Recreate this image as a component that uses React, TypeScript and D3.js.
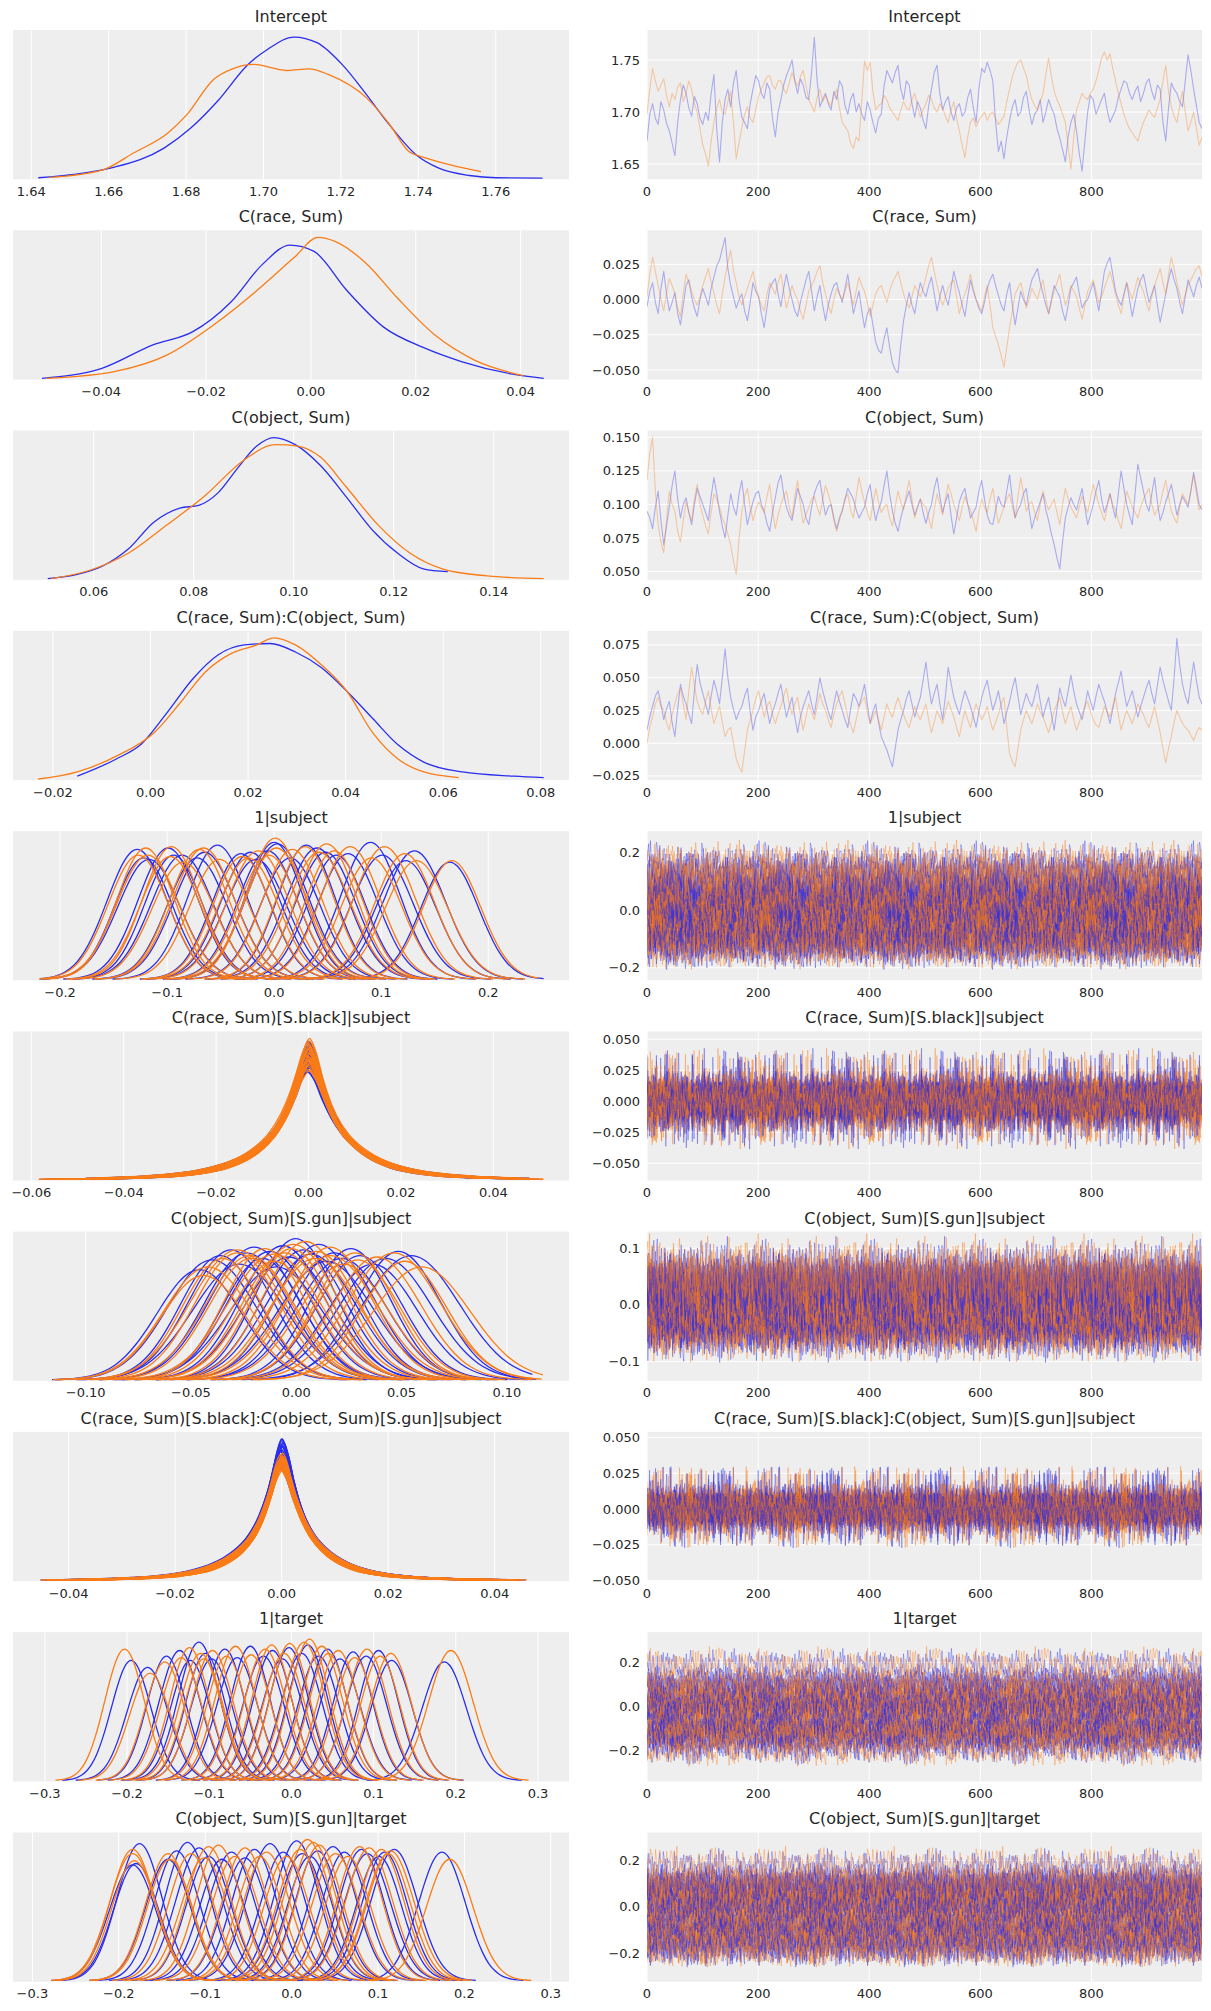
import React from "react";
import * as d3 from "d3";

const BLUE = "#2a2eec";
const ORANGE = "#fa7c17";
const TEXT = "#262626";
const PANEL_BG = "#eeeeee";

// ---------- titles, extents, ticks ----------
const titles = [
  "Intercept",
  "C(race, Sum)",
  "C(object, Sum)",
  "C(race, Sum):C(object, Sum)",
  "1|subject",
  "C(race, Sum)[S.black]|subject",
  "C(object, Sum)[S.gun]|subject",
  "C(race, Sum)[S.black]:C(object, Sum)[S.gun]|subject",
  "1|target",
  "C(object, Sum)[S.gun]|target",
];

// min / max of the posterior draws of each variable
const extents: [number, number][] = [
  [1.6418, 1.7724],
  [-0.052, 0.0444],
  [0.0489, 0.15],
  [-0.023, 0.0806],
  [-0.2204, 0.2518],
  [-0.0585, 0.0509],
  [-0.1225, 0.1175],
  [-0.0457, 0.0492],
  [-0.308, 0.307],
  [-0.2932, 0.2918],
];

const kdeTickLabels: string[][] = [
  ["1.64", "1.66", "1.68", "1.70", "1.72", "1.74", "1.76"],
  ["\u22120.04", "\u22120.02", "0.00", "0.02", "0.04"],
  ["0.06", "0.08", "0.10", "0.12", "0.14"],
  ["\u22120.02", "0.00", "0.02", "0.04", "0.06", "0.08"],
  ["\u22120.2", "\u22120.1", "0.0", "0.1", "0.2"],
  ["\u22120.06", "\u22120.04", "\u22120.02", "0.00", "0.02", "0.04"],
  ["\u22120.10", "\u22120.05", "0.00", "0.05", "0.10"],
  ["\u22120.04", "\u22120.02", "0.00", "0.02", "0.04"],
  ["\u22120.3", "\u22120.2", "\u22120.1", "0.0", "0.1", "0.2", "0.3"],
  ["\u22120.3", "\u22120.2", "\u22120.1", "0.0", "0.1", "0.2", "0.3"],
];

const traceTickLabels: string[][] = [
  ["1.65", "1.70", "1.75"],
  ["\u22120.050", "\u22120.025", "0.000", "0.025"],
  ["0.050", "0.075", "0.100", "0.125", "0.150"],
  ["\u22120.025", "0.000", "0.025", "0.050", "0.075"],
  ["\u22120.2", "0.0", "0.2"],
  ["\u22120.050", "\u22120.025", "0.000", "0.025", "0.050"],
  ["\u22120.1", "0.0", "0.1"],
  ["\u22120.050", "\u22120.025", "0.000", "0.025", "0.050"],
  ["\u22120.2", "0.0", "0.2"],
  ["\u22120.2", "0.0", "0.2"],
];

const drawTickLabels = ["0", "200", "400", "600", "800"];
const lastDraw = 999;

// ---------- single-variable KDE curves: [value, relative density] ----------
const interceptKdeBlue = [[1.6418,0.003],[1.6516,0.028],[1.6615,0.078],[1.6743,0.213],[1.6812,0.355],[1.6881,0.545],[1.696,0.806],[1.701,0.912],[1.7079,1.0],[1.7138,0.96],[1.7207,0.794],[1.7266,0.592],[1.7325,0.379],[1.7394,0.166],[1.7453,0.071],[1.7532,0.019],[1.7601,0.003],[1.7721,0.0]];
const interceptKdeOrange = [[1.6447,0.005],[1.6585,0.059],[1.6664,0.178],[1.6753,0.32],[1.6802,0.45],[1.6871,0.7],[1.692,0.775],[1.6975,0.806],[1.7059,0.763],[1.7118,0.775],[1.7167,0.735],[1.7266,0.569],[1.7325,0.384],[1.7375,0.19],[1.7414,0.147],[1.7483,0.095],[1.7562,0.047]];
const raceKdeBlue = [[-0.0513,0],[-0.04,0.07],[-0.03,0.24],[-0.0226,0.33],[-0.0153,0.54],[-0.0092,0.81],[-0.004,0.945],[0.0006,0.9],[0.0067,0.63],[0.014,0.36],[0.0214,0.22],[0.0287,0.12],[0.0385,0.03],[0.0444,0]];
const raceKdeOrange = [[-0.0505,0],[-0.0373,0.05],[-0.0275,0.165],[-0.0178,0.4],[-0.0104,0.62],[-0.0031,0.86],[0.0013,1.0],[0.0047,0.97],[0.0104,0.82],[0.0165,0.57],[0.0239,0.3],[0.0312,0.13],[0.0405,0.02]];
const objectKdeBlue = [[0.0508,0.0],[0.0567,0.03],[0.0618,0.09],[0.0669,0.21],[0.072,0.4],[0.0772,0.5],[0.081,0.52],[0.0849,0.61],[0.0887,0.78],[0.0926,0.94],[0.096,1.0],[0.1003,0.95],[0.1054,0.8],[0.1105,0.58],[0.1156,0.35],[0.1208,0.18],[0.1259,0.07],[0.1308,0.05]];
const objectKdeOrange = [[0.0515,0],[0.0592,0.06],[0.0669,0.18],[0.0746,0.38],[0.0823,0.59],[0.09,0.84],[0.0964,0.95],[0.1008,0.94],[0.1054,0.86],[0.1105,0.65],[0.1169,0.38],[0.1233,0.18],[0.1297,0.07],[0.1387,0.02],[0.15,0]];
const interactionKdeBlue = [[-0.015,0.02],[-0.0071,0.14],[-0.0018,0.25],[0.0034,0.47],[0.0087,0.71],[0.0139,0.88],[0.0192,0.95],[0.0245,0.96],[0.0297,0.9],[0.035,0.79],[0.0403,0.62],[0.0455,0.43],[0.0508,0.24],[0.056,0.12],[0.0639,0.05],[0.0745,0.02],[0.0806,0.01]];
const interactionKdeOrange = [[-0.023,0],[-0.015,0.05],[-0.0071,0.16],[0.0008,0.33],[0.0061,0.54],[0.0113,0.76],[0.0166,0.89],[0.0218,0.95],[0.0253,1.0],[0.0297,0.95],[0.035,0.81],[0.0403,0.62],[0.0455,0.33],[0.0508,0.14],[0.056,0.05],[0.0632,0.01]];

// ---------- single-variable traces (every 5th draw) ----------
const interceptTraceBlue = [
1.672,1.698,1.708,1.694,1.688,1.71,1.702,1.689,1.682,1.67,
1.658,1.69,1.712,1.726,1.718,1.704,1.696,1.715,1.708,1.694,
1.688,1.7,1.692,1.718,1.736,1.684,1.652,1.69,1.712,1.722,
1.705,1.728,1.74,1.712,1.695,1.69,1.684,1.708,1.722,1.735,
1.73,1.718,1.713,1.728,1.722,1.694,1.676,1.7,1.712,1.726,
1.735,1.742,1.75,1.73,1.718,1.732,1.726,1.714,1.712,1.738,
1.772,1.73,1.705,1.712,1.718,1.708,1.702,1.72,1.712,1.73,
1.725,1.706,1.698,1.712,1.718,1.7,1.708,1.698,1.692,1.71,
1.702,1.69,1.68,1.694,1.698,1.725,1.74,1.734,1.728,1.738,
1.745,1.722,1.712,1.73,1.726,1.708,1.695,1.71,1.704,1.692,
1.684,1.706,1.722,1.738,1.745,1.718,1.702,1.71,1.715,1.7,
1.692,1.704,1.708,1.696,1.7,1.714,1.722,1.704,1.69,1.722,
1.742,1.738,1.748,1.74,1.73,1.69,1.662,1.672,1.655,1.676,
1.692,1.705,1.712,1.696,1.7,1.714,1.72,1.702,1.688,1.698,
1.702,1.712,1.69,1.7,1.712,1.704,1.698,1.684,1.675,1.664,
1.652,1.676,1.69,1.698,1.682,1.66,1.643,1.672,1.7,1.716,
1.712,1.698,1.705,1.712,1.718,1.702,1.69,1.696,1.702,1.714,
1.722,1.73,1.728,1.718,1.712,1.72,1.725,1.71,1.718,1.728,
1.732,1.72,1.712,1.726,1.722,1.69,1.672,1.704,1.728,1.722,
1.718,1.71,1.705,1.73,1.755,1.74,1.722,1.706,1.69,1.684];
const interceptTraceOrange = [
1.698,1.722,1.742,1.73,1.72,1.726,1.732,1.716,1.705,1.718,
1.712,1.724,1.728,1.71,1.718,1.73,1.722,1.708,1.7,1.684,
1.668,1.66,1.648,1.672,1.69,1.704,1.712,1.7,1.698,1.71,
1.72,1.69,1.655,1.67,1.685,1.698,1.705,1.694,1.69,1.702,
1.715,1.722,1.728,1.734,1.735,1.726,1.722,1.73,1.73,1.722,
1.718,1.728,1.738,1.73,1.725,1.734,1.74,1.726,1.712,1.706,
1.7,1.714,1.722,1.71,1.716,1.71,1.706,1.716,1.722,1.704,
1.69,1.686,1.682,1.67,1.665,1.676,1.672,1.71,1.749,1.74,
1.748,1.72,1.702,1.706,1.708,1.716,1.712,1.704,1.7,1.696,
1.692,1.702,1.71,1.704,1.702,1.712,1.718,1.706,1.695,1.702,
1.708,1.716,1.712,1.704,1.7,1.708,1.704,1.696,1.69,1.702,
1.71,1.694,1.682,1.668,1.656,1.676,1.69,1.694,1.686,1.692,
1.696,1.7,1.692,1.698,1.7,1.694,1.688,1.692,1.696,1.71,
1.722,1.734,1.742,1.748,1.75,1.742,1.735,1.722,1.712,1.706,
1.702,1.71,1.718,1.736,1.752,1.734,1.72,1.712,1.706,1.698,
1.69,1.668,1.645,1.676,1.702,1.71,1.718,1.714,1.712,1.718,
1.722,1.73,1.74,1.752,1.758,1.75,1.756,1.742,1.73,1.718,
1.708,1.698,1.69,1.684,1.68,1.676,1.672,1.682,1.69,1.696,
1.702,1.698,1.695,1.704,1.712,1.73,1.745,1.72,1.705,1.696,
1.69,1.706,1.72,1.7,1.682,1.69,1.7,1.684,1.668,1.676];
const raceTraceBlue = [
-0.005,0.006,0.012,-0.002,-0.01,0.008,0.02,0.004,-0.008,-0.002,
0.005,-0.01,-0.018,-0.004,0.01,0.014,0.002,-0.006,-0.012,0.0,
0.008,0.002,-0.004,0.008,0.016,0.024,0.028,0.036,0.044,0.022,
0.01,0.002,-0.006,0.0,0.004,-0.008,-0.015,-0.002,0.012,0.006,
0.002,-0.01,-0.02,-0.006,0.008,0.012,0.015,0.004,-0.005,0.008,
0.018,0.008,0.0,-0.008,-0.012,-0.002,0.006,0.014,0.02,0.006,
-0.008,0.002,0.01,-0.004,-0.015,-0.004,0.004,0.01,0.012,0.004,
-0.002,0.008,0.018,0.004,-0.01,-0.002,0.006,-0.008,-0.02,-0.01,
-0.006,-0.018,-0.03,-0.036,-0.038,-0.028,-0.02,-0.034,-0.045,-0.05,
-0.052,-0.032,-0.015,-0.004,0.005,-0.004,-0.01,0.002,0.012,0.006,
0.002,0.01,0.016,0.004,-0.008,0.002,0.01,0.002,-0.004,0.008,
0.02,0.012,0.005,-0.004,-0.012,0.002,0.014,0.006,0.0,-0.006,
-0.01,-0.002,0.008,0.014,0.018,0.01,0.003,-0.004,-0.008,0.004,
0.012,-0.004,-0.018,-0.006,0.006,0.0,-0.004,0.006,0.014,0.018,
0.022,0.012,0.004,-0.004,-0.01,0.0,0.01,0.006,0.002,-0.008,
-0.015,-0.004,0.008,0.012,0.016,0.004,-0.006,-0.002,0.0,0.006,
0.012,0.002,-0.008,0.006,0.02,0.026,0.03,0.018,0.006,0.0,
-0.004,0.004,0.012,0.0,-0.012,-0.002,0.008,0.014,0.018,0.008,
-0.002,0.004,0.01,-0.004,-0.016,-0.006,0.004,0.014,0.022,0.014,
0.008,-0.002,-0.01,0.002,0.014,0.008,0.002,0.01,0.016,0.008];
const raceTraceOrange = [
0.002,0.018,0.03,0.02,0.01,0.0,-0.008,0.004,0.015,0.01,
0.004,-0.006,-0.012,0.004,0.018,0.012,0.006,0.0,-0.004,0.002,
0.01,0.016,0.022,0.012,0.005,-0.004,-0.01,0.004,0.016,0.026,
0.035,0.02,0.012,0.002,-0.004,0.002,0.008,0.014,0.02,0.01,
0.002,-0.004,-0.008,0.004,0.012,0.008,0.004,0.012,0.018,0.006,
-0.006,0.002,0.01,0.004,0.0,-0.008,-0.014,-0.004,0.006,0.01,
0.014,0.02,0.024,0.012,0.004,-0.004,-0.01,0.0,0.008,0.004,
0.0,0.006,0.012,0.004,-0.004,0.006,0.016,0.01,0.006,-0.002,
-0.012,-0.004,0.004,0.008,0.01,0.004,-0.002,0.006,0.012,0.016,
0.02,0.012,0.004,-0.002,-0.006,0.002,0.01,0.006,0.002,0.008,
0.016,0.024,0.03,0.02,0.01,0.002,-0.004,0.002,0.008,0.012,
0.014,0.002,-0.01,-0.002,0.004,0.01,0.018,0.008,0.0,-0.004,
-0.008,0.002,0.01,-0.004,-0.02,-0.026,-0.032,-0.04,-0.048,-0.034,
-0.02,-0.008,0.004,0.008,0.012,0.004,-0.006,0.0,0.008,0.004,
0.0,0.008,0.014,0.002,-0.01,-0.002,0.006,0.012,0.018,0.006,
-0.004,0.002,0.01,0.006,0.002,-0.006,-0.014,-0.004,0.006,0.01,
0.014,0.006,-0.002,0.002,0.008,0.014,0.02,0.012,0.004,-0.004,
-0.01,0.002,0.012,0.006,0.0,0.008,0.016,0.01,0.006,-0.002,
-0.008,0.002,0.01,0.016,0.022,0.012,0.004,0.018,0.03,0.022,
0.012,0.004,-0.004,0.004,0.01,0.014,0.018,0.022,0.024,0.016];
const objectTraceBlue = [
0.095,0.09,0.082,0.098,0.11,0.088,0.07,0.084,0.098,0.114,
0.125,0.104,0.09,0.1,0.105,0.094,0.085,0.1,0.112,0.106,
0.1,0.094,0.088,0.106,0.12,0.108,0.095,0.084,0.075,0.092,
0.108,0.098,0.092,0.108,0.118,0.1,0.085,0.094,0.102,0.108,
0.11,0.1,0.095,0.086,0.08,0.094,0.105,0.116,0.122,0.108,
0.098,0.092,0.088,0.1,0.112,0.106,0.1,0.09,0.085,0.098,
0.108,0.114,0.118,0.104,0.092,0.098,0.1,0.09,0.082,0.09,
0.095,0.104,0.112,0.108,0.104,0.096,0.09,0.094,0.098,0.108,
0.115,0.1,0.088,0.096,0.102,0.114,0.125,0.108,0.095,0.086,
0.08,0.09,0.098,0.104,0.11,0.1,0.092,0.098,0.104,0.094,
0.086,0.094,0.1,0.112,0.12,0.106,0.094,0.102,0.108,0.092,
0.078,0.09,0.102,0.108,0.112,0.1,0.09,0.094,0.098,0.11,
0.118,0.104,0.092,0.086,0.085,0.096,0.106,0.1,0.098,0.11,
0.122,0.104,0.09,0.096,0.1,0.108,0.112,0.096,0.082,0.09,
0.096,0.102,0.108,0.096,0.088,0.078,0.07,0.06,0.052,0.072,
0.09,0.098,0.105,0.1,0.096,0.104,0.112,0.098,0.085,0.092,
0.1,0.11,0.118,0.104,0.094,0.1,0.108,0.098,0.09,0.108,
0.125,0.112,0.1,0.092,0.085,0.108,0.13,0.12,0.11,0.1,
0.095,0.108,0.12,0.102,0.088,0.094,0.102,0.108,0.115,0.104,
0.092,0.1,0.106,0.102,0.098,0.11,0.124,0.112,0.1,0.096];
const objectTraceOrange = [
0.118,0.138,0.15,0.11,0.085,0.072,0.064,0.088,0.11,0.1,
0.095,0.08,0.072,0.088,0.102,0.094,0.088,0.104,0.115,0.1,
0.092,0.084,0.078,0.094,0.108,0.104,0.098,0.09,0.085,0.078,
0.07,0.058,0.048,0.074,0.095,0.106,0.112,0.098,0.088,0.096,
0.102,0.098,0.094,0.106,0.115,0.096,0.082,0.092,0.1,0.106,
0.11,0.098,0.09,0.106,0.118,0.1,0.086,0.092,0.098,0.104,
0.106,0.098,0.092,0.104,0.114,0.108,0.1,0.088,0.08,0.088,
0.096,0.104,0.108,0.096,0.09,0.106,0.12,0.11,0.102,0.094,
0.088,0.1,0.112,0.102,0.094,0.098,0.1,0.09,0.084,0.098,
0.11,0.102,0.096,0.108,0.118,0.104,0.09,0.098,0.104,0.1,
0.098,0.09,0.082,0.096,0.108,0.1,0.092,0.104,0.115,0.108,
0.1,0.094,0.088,0.098,0.106,0.1,0.096,0.088,0.08,0.094,
0.104,0.098,0.094,0.104,0.112,0.098,0.086,0.092,0.098,0.104,
0.108,0.098,0.09,0.106,0.12,0.108,0.095,0.1,0.102,0.094,
0.088,0.1,0.11,0.102,0.096,0.1,0.104,0.094,0.085,0.1,
0.112,0.104,0.098,0.094,0.09,0.098,0.106,0.1,0.094,0.104,
0.115,0.108,0.1,0.094,0.088,0.098,0.108,0.1,0.096,0.088,
0.082,0.096,0.11,0.104,0.098,0.094,0.09,0.098,0.104,0.108,
0.112,0.1,0.092,0.096,0.1,0.11,0.118,0.106,0.095,0.09,
0.086,0.098,0.108,0.104,0.1,0.11,0.122,0.108,0.096,0.1];
const interactionTraceBlue = [
0.01,0.02,0.028,0.036,0.04,0.03,0.018,0.026,0.032,0.016,
0.005,0.026,0.045,0.036,0.03,0.022,0.015,0.04,0.06,0.046,
0.038,0.03,0.022,0.036,0.048,0.04,0.03,0.05,0.072,0.05,
0.035,0.026,0.018,0.024,0.028,0.036,0.042,0.024,0.01,0.02,
0.025,0.032,0.038,0.026,0.015,0.024,0.03,0.038,0.045,0.032,
0.02,0.028,0.035,0.02,0.008,0.02,0.028,0.034,0.04,0.03,
0.022,0.036,0.05,0.04,0.032,0.024,0.018,0.03,0.04,0.032,
0.025,0.018,0.012,0.026,0.038,0.034,0.028,0.036,0.045,0.03,
0.015,0.024,0.03,0.016,0.005,0.0,-0.005,-0.012,-0.018,-0.004,
0.01,0.018,0.025,0.034,0.04,0.03,0.02,0.028,0.035,0.048,
0.062,0.044,0.03,0.038,0.045,0.03,0.018,0.036,0.058,0.046,
0.035,0.028,0.022,0.032,0.04,0.034,0.028,0.02,0.012,0.024,
0.035,0.042,0.048,0.036,0.025,0.032,0.04,0.028,0.015,0.024,
0.032,0.042,0.05,0.036,0.022,0.03,0.038,0.032,0.028,0.036,
0.045,0.032,0.02,0.028,0.035,0.022,0.01,0.026,0.042,0.034,
0.028,0.04,0.052,0.04,0.03,0.024,0.018,0.028,0.04,0.032,
0.025,0.036,0.045,0.038,0.032,0.024,0.015,0.026,0.038,0.046,
0.055,0.04,0.028,0.034,0.04,0.03,0.02,0.028,0.035,0.042,
0.048,0.038,0.03,0.044,0.058,0.048,0.04,0.032,0.025,0.05,
0.08,0.06,0.045,0.036,0.03,0.046,0.062,0.048,0.035,0.03];
const interactionTraceOrange = [
0.0,0.012,0.02,0.03,0.035,0.028,0.025,0.016,0.01,0.022,
0.03,0.038,0.042,0.03,0.018,0.04,0.058,0.044,0.032,0.026,
0.022,0.032,0.04,0.026,0.015,0.022,0.028,0.016,0.005,0.01,
0.012,0.0,-0.012,-0.018,-0.022,-0.006,0.01,0.018,0.025,0.034,
0.04,0.03,0.02,0.028,0.032,0.022,0.015,0.022,0.028,0.036,
0.042,0.03,0.022,0.03,0.035,0.022,0.01,0.02,0.03,0.024,
0.018,0.028,0.038,0.03,0.025,0.018,0.012,0.022,0.03,0.036,
0.04,0.03,0.02,0.014,0.008,0.018,0.028,0.032,0.035,0.024,
0.015,0.02,0.025,0.018,0.01,0.02,0.03,0.024,0.02,0.028,
0.035,0.028,0.022,0.016,0.012,0.02,0.028,0.022,0.018,0.024,
0.03,0.018,0.008,0.016,0.025,0.02,0.015,0.024,0.032,0.026,
0.02,0.012,0.005,0.016,0.025,0.018,0.012,0.022,0.03,0.024,
0.018,0.022,0.028,0.018,0.01,0.016,0.022,0.03,0.035,0.012,
-0.008,-0.014,-0.018,-0.004,0.01,0.018,0.025,0.02,0.015,0.022,
0.03,0.024,0.02,0.014,0.008,0.016,0.025,0.03,0.035,0.024,
0.015,0.022,0.028,0.018,0.01,0.016,0.022,0.028,0.032,0.024,
0.018,0.014,0.012,0.02,0.028,0.024,0.02,0.028,0.035,0.022,
0.01,0.018,0.025,0.02,0.015,0.022,0.03,0.026,0.022,0.016,
0.012,0.02,0.028,0.018,0.008,-0.004,-0.015,-0.004,0.005,0.016,
0.025,0.02,0.015,0.012,0.01,0.006,0.002,0.008,0.012,0.01];

// ---------- group-level variables: [center, width, height blue, height orange, orange shift] ----------
const subjectIntercepts = [
  [-0.128,0.028,0.92,0.88,0.001],[-0.122,0.027,0.86,0.93,0.002],[-0.117,0.029,0.85,0.88,-0.001],
  [-0.099,0.028,0.93,0.87,0.002],[-0.094,0.027,0.88,0.94,-0.002],[-0.086,0.029,0.88,0.83,0.001],
  [-0.072,0.028,0.86,0.92,0.002],[-0.065,0.029,0.9,0.93,-0.001],[-0.053,0.028,0.95,0.85,0.002],
  [-0.031,0.027,0.89,0.87,0.001],[-0.022,0.028,0.9,0.86,-0.002],[-0.017,0.029,0.85,0.91,0.002],
  [-0.006,0.028,0.91,0.88,0.001],[0.0,0.027,0.97,1.0,0.001],[0.003,0.029,0.96,0.93,-0.001],
  [0.015,0.028,0.86,0.92,0.002],[0.03,0.027,0.95,0.94,-0.001],[0.04,0.029,0.93,0.9,0.002],
  [0.048,0.028,0.9,0.96,0.001],[0.058,0.027,0.88,0.91,-0.002],[0.069,0.028,0.89,0.94,0.002],
  [0.09,0.028,0.97,0.86,0.001],[0.101,0.029,0.88,0.94,0.002],[0.123,0.028,0.84,0.89,-0.001],
  [0.131,0.029,0.91,0.84,0.002],[0.164,0.027,0.83,0.84,0.002],
];
const subjectRaceSlopes = [
  [0.0,0.005,0.88,0.92,0.0001],[0.0004,0.0046,0.95,0.98,-0.0002],[-0.0003,0.0055,0.82,0.85,0.0002],
  [0.0002,0.0048,0.92,1.0,0.0],[-0.0005,0.0058,0.78,0.8,0.0003],[0.0006,0.0052,0.86,0.83,-0.0001],
  [0.0001,0.0045,0.97,0.94,0.0002],[-0.0002,0.006,0.76,0.78,0.0],[0.0003,0.005,0.9,0.87,-0.0002],
  [-0.0004,0.0053,0.84,0.9,0.0003],[0.0005,0.0047,0.93,0.91,0.0],[0.0,0.0056,0.8,0.82,0.0002],
  [-0.0001,0.0049,0.91,0.96,-0.0001],[0.0002,0.0051,0.87,0.85,0.0002],[-0.0006,0.0054,0.83,0.88,0.0],
  [0.0004,0.0046,0.96,0.93,-0.0002],[0.0001,0.0057,0.79,0.77,0.0001],[-0.0003,0.005,0.89,0.92,0.0002],
  [0.0003,0.0048,0.92,0.89,0.0],[-0.0001,0.0052,0.86,0.84,-0.0001],[0.0,0.0044,0.98,0.95,0.0002],
  [0.0005,0.0055,0.81,0.86,0.0],[-0.0004,0.0049,0.9,0.88,0.0001],[0.0002,0.0053,0.85,0.81,-0.0002],
  [-0.0002,0.0047,0.94,0.97,0.0001],
];
const subjectObjectSlopes = [
  [-0.046,0.02,0.78,0.74,0.002],[-0.04,0.021,0.85,0.8,-0.002],[-0.036,0.019,0.88,0.86,0.001],
  [-0.031,0.02,0.92,0.9,0.003],[-0.027,0.022,0.82,0.92,-0.001],[-0.0235,0.02,0.9,0.86,0.002],
  [-0.02,0.021,0.94,0.88,-0.002],[-0.016,0.019,0.86,0.93,0.001],[-0.0125,0.02,0.91,0.84,0.002],
  [-0.0095,0.022,0.8,0.89,-0.001],[-0.0064,0.02,0.95,0.9,0.001],[-0.0034,0.021,0.87,0.96,0.002],
  [-0.0003,0.019,1.0,0.93,-0.002],[0.0034,0.02,0.92,0.98,0.001],[0.007,0.021,0.89,0.86,0.002],
  [0.0107,0.02,0.96,0.91,-0.001],[0.0143,0.022,0.84,0.88,0.002],[0.018,0.02,0.9,0.94,-0.002],
  [0.0216,0.021,0.86,0.82,0.001],[0.0259,0.019,0.93,0.9,0.002],[0.0302,0.02,0.88,0.85,-0.001],
  [0.0363,0.021,0.82,0.87,0.002],[0.0424,0.022,0.86,0.9,0.004],[0.0485,0.02,0.91,0.84,0.003],
  [0.0546,0.023,0.88,0.8,0.005],
];
const subjectInteractionSlopes = [
  [0.0,0.0036,0.92,0.84,0.0001],[0.0003,0.0034,0.97,0.86,-0.0001],[-0.0002,0.004,0.84,0.8,0.0002],
  [0.0001,0.0033,1.0,0.88,0.0],[-0.0004,0.0042,0.8,0.78,0.0002],[0.0004,0.0037,0.9,0.83,-0.0001],
  [0.0001,0.0032,0.99,0.9,0.0001],[-0.0002,0.0041,0.82,0.79,0.0],[0.0002,0.0035,0.94,0.85,-0.0002],
  [-0.0003,0.0038,0.88,0.86,0.0002],[0.0003,0.0034,0.96,0.87,0.0],[0.0,0.004,0.85,0.81,0.0001],
  [-0.0001,0.0035,0.93,0.89,-0.0001],[0.0002,0.0037,0.9,0.84,0.0002],[-0.0004,0.0039,0.86,0.82,0.0],
  [0.0003,0.0033,0.98,0.88,-0.0002],[0.0001,0.0041,0.83,0.78,0.0001],[-0.0002,0.0036,0.91,0.86,0.0002],
  [0.0002,0.0034,0.95,0.85,0.0],[-0.0001,0.0038,0.89,0.83,-0.0001],[0.0,0.0032,1.0,0.9,0.0002],
  [0.0004,0.004,0.84,0.82,0.0],[-0.0003,0.0035,0.92,0.86,0.0001],[0.0002,0.0038,0.87,0.8,-0.0002],
  [-0.0001,0.0034,0.96,0.87,0.0001],
];
const targetIntercepts = [
  [-0.195,0.024,0.85,0.93,-0.008],[-0.175,0.025,0.8,0.76,0.003],[-0.152,0.024,0.88,0.84,-0.002],
  [-0.136,0.025,0.92,0.87,0.002],[-0.123,0.024,0.85,0.94,-0.001],[-0.1125,0.025,0.98,0.9,0.002],
  [-0.1047,0.024,0.9,0.86,-0.002],[-0.097,0.025,0.86,0.92,0.001],[-0.081,0.024,0.93,0.88,0.002],
  [-0.066,0.025,0.87,0.95,-0.002],[-0.05,0.024,0.95,0.89,0.001],[-0.034,0.025,0.88,0.93,0.002],
  [-0.023,0.024,0.92,0.96,-0.001],[-0.011,0.025,0.86,0.9,0.002],[-0.003,0.024,0.94,0.97,0.001],
  [0.0125,0.025,0.9,0.98,0.003],[0.02,0.024,0.96,1.0,0.002],[0.033,0.025,0.88,0.95,0.004],
  [0.044,0.024,0.93,0.9,0.001],[0.059,0.025,0.86,0.92,-0.002],[0.075,0.024,0.91,0.87,0.002],
  [0.091,0.025,0.88,0.93,0.001],[0.106,0.024,0.92,0.88,0.002],[0.122,0.025,0.85,0.9,-0.001],
  [0.186,0.027,0.84,0.92,0.008],
];
const targetObjectSlopes = [
  [-0.176,0.026,0.97,0.85,-0.006],[-0.18,0.026,0.83,0.93,-0.004],[-0.184,0.027,0.82,0.9,0.0],
  [-0.143,0.026,0.86,0.9,0.0],[-0.133,0.026,0.92,0.86,-0.008],[-0.1205,0.026,0.98,0.9,0.004],
  [-0.107,0.027,0.94,0.87,0.006],[-0.096,0.026,0.88,0.95,0.0],[-0.0806,0.026,0.86,0.96,-0.004],
  [-0.0695,0.027,0.91,0.88,0.004],[-0.054,0.026,0.87,0.94,0.0],[-0.043,0.026,0.93,0.88,0.006],
  [-0.025,0.027,0.97,0.91,-0.004],[-0.0097,0.026,0.91,0.88,0.004],[0.0058,0.026,0.99,0.93,0.004],
  [0.0124,0.027,0.9,1.0,0.006],[0.0213,0.026,0.88,0.98,0.004],[0.0301,0.026,0.92,0.96,0.002],
  [0.0479,0.027,0.95,0.9,0.003],[0.0611,0.026,0.91,0.88,0.004],[0.0808,0.026,0.93,0.95,-0.002],
  [0.0877,0.027,0.9,0.94,0.002],[0.101,0.026,0.88,0.93,0.003],[0.1076,0.026,0.91,0.9,0.004],
  [0.1187,0.027,0.93,0.92,-0.004],[0.174,0.027,0.91,0.86,0.009],
];

// KDE shape templates [z, relative density]
const bellShape = [[-3.5,0.002],[-3.25,0.005],[-3,0.011],[-2.75,0.023],[-2.5,0.044],[-2.25,0.08],[-2,0.135],[-1.75,0.216],[-1.5,0.325],[-1.25,0.458],[-1,0.607],[-0.75,0.755],[-0.5,0.883],[-0.25,0.969],[0,1],[0.25,0.969],[0.5,0.883],[0.75,0.755],[1,0.607],[1.25,0.458],[1.5,0.325],[1.75,0.216],[2,0.135],[2.25,0.08],[2.5,0.044],[2.75,0.023],[3,0.011],[3.25,0.005],[3.5,0.002]];
const spikeShape = [[-11,0.002],[-8,0.012],[-6,0.03],[-5,0.05],[-4,0.085],[-3,0.15],[-2.5,0.2],[-2,0.27],[-1.5,0.37],[-1,0.53],[-0.6,0.72],[-0.3,0.9],[0,1],[0.3,0.9],[0.6,0.72],[1,0.53],[1.5,0.37],[2,0.27],[2.5,0.2],[3,0.15],[4,0.085],[5,0.05],[6,0.03],[8,0.012],[11,0.002]];

// texture of the sampler draws around each group-level mean (in widths)
const drawJitter = [0.3,-1.2,0.8,1.9,-0.4,-2.1,0.6,1.1,-0.9,0.2,2.4,-1.5,-0.1,0.9,-2.6,1.4,0.5,-0.7,1.7,-1.1,0.0,2.0,-1.8,0.7,-0.3,1.2,-2.3,0.4,1.6,-0.6,-1.4,2.7,-0.2,0.8,-1.0,1.3,-2.0,0.1,1.8,-0.8,0.6,-1.6,2.2,-0.5,-1.3,1.0,0.3,-2.8,1.5,-0.4,0.9,-1.1,2.1,-0.7,0.2,-1.9,1.4,0.5,-0.9,2.5,-1.2,0.0,1.1,-2.2,0.7,-0.3,1.9,-1.7,0.4,1.2,-0.6,-2.4,1.6,0.1,-1.0,2.3,-0.8,0.6,-1.5,1.0,-0.2,2.9,-1.4,0.3,-0.6,1.7,-2.0,0.8,0.2,-1.1,1.3,-2.7,0.5,1.8,-0.4,-1.3,2.0,0.0,-0.9,1.5,-1.8,0.7,0.3,-2.1,1.1,-0.5,2.6,-1.2,0.6,-0.1,1.4,-1.6,0.9,-2.5,0.2,1.2,-0.7,2.2,-1.0,0.4,-0.3,1.6,-1.9,0.8,-0.2,1.0,-1.4];
const spikyJitter = [0.4,-1.1,0.2,2.6,-0.3,-3.0,0.7,1.2,-0.6,0.1,3.8,-1.8,-0.2,0.5,-2.2,1.0,0.3,-0.4,2.5,-1.3,0.0,1.6,-4.4,0.6,-0.1,0.9,-2.2,0.3,2.0,-0.5,-1.0,3.2,-0.2,0.4,-0.8,1.5,-2.7,0.1,2.0,-0.7,0.2,-1.4,4.6,-0.3,-1.9,0.8,0.4,-3.4,1.3,-0.2,0.6,-0.9,2.4,-0.5,0.1,-2.0,1.1,0.3,-0.6,2.9,-1.2,0.0,0.9,-2.4,0.5,-0.1,2.3,-1.6,0.2,1.0,-0.4,-4.0,1.7,0.0,-0.7,2.6,-0.6,0.3,-1.5,0.8,-0.2,6.5,-1.1,0.2,-0.3,1.9,-2.5,0.7,0.1,-0.9,1.2,-3.1,0.4,2.8,-0.3,-1.3,2.2,0.0,-0.8,1.4,-2.0,0.5,0.2,-2.5,1.0,-0.4,3.5,-1.0,0.4,-0.1,1.3,-1.7,0.6,-5.8,0.1,0.9,-0.5,2.4,-0.9,0.3,-0.2,1.6,-2.1,0.6,-0.1,0.7,-1.2];
const strides = [1, 2, 3, 5, 7, 11, 13];

// ---------- layout ----------
const FIG_W = 1211;
const FIG_H = 2011;
const ROW_TOP = 30;
const ROW_PITCH = 200.27;
const PANEL_H = 149.3;
const LEFT_X: [number, number] = [13, 569];
const RIGHT_X: [number, number] = [647, 1202];

const num = (s: string) => +s.replace("\u2212", "-");

type Pt = [number, number];
type Curve = { color: string; pts: Pt[] };
type RowData = { kde: Curve[]; traces: Curve[] };

function singleTrace(vals: number[]): Pt[] {
  const idx = d3.scaleLinear().domain([0, vals.length - 1]).range([0, lastDraw]);
  return vals.map((v, i) => [idx(i), v] as Pt);
}

function singleRow(kb: number[][], ko: number[][], tb: number[], to: number[]): RowData {
  return {
    kde: [{ color: BLUE, pts: kb as Pt[] }, { color: ORANGE, pts: ko as Pt[] }],
    traces: [{ color: BLUE, pts: singleTrace(tb) }, { color: ORANGE, pts: singleTrace(to) }],
  };
}

function groupRow(groups: number[][], shape: number[][], jitter: number[], jitterScale: number, seed: number, ext: [number, number]): RowData {
  const kdeB: Curve[] = [];
  const kdeO: Curve[] = [];
  const traces: Curve[] = [];
  const nPts = 650;
  const idx = d3.scaleLinear().domain([0, nPts - 1]).range([0, lastDraw]);
  const N = jitter.length;
  groups.forEach((g, k) => {
    const [c, w, hb, ho, dO] = g;
    const mk = (cc: number, h: number) =>
      shape.map(([z, y]) => [cc + z * w, y * h] as Pt).filter((p) => p[0] >= ext[0] && p[0] <= ext[1]);
    kdeB.push({ color: BLUE, pts: mk(c, hb) });
    kdeO.push({ color: ORANGE, pts: mk(c + dO, ho) });
    const mkTr = (cc: number, off: number, st: number) => {
      const pts: Pt[] = [];
      for (let i = 0; i < nPts; i++) pts.push([idx(i), cc + w * jitterScale * jitter[(off + i * st) % N]]);
      return pts;
    };
    traces.push({ color: BLUE, pts: mkTr(c, (k * 37 + seed) % N, strides[(k + seed) % strides.length]) });
    traces.push({ color: ORANGE, pts: mkTr(c + dO, (k * 53 + seed * 3 + 61) % N, strides[(k + seed + 3) % strides.length]) });
  });
  return { kde: [...kdeB, ...kdeO], traces };
}

const rowData: RowData[] = [
  singleRow(interceptKdeBlue, interceptKdeOrange, interceptTraceBlue, interceptTraceOrange),
  singleRow(raceKdeBlue, raceKdeOrange, raceTraceBlue, raceTraceOrange),
  singleRow(objectKdeBlue, objectKdeOrange, objectTraceBlue, objectTraceOrange),
  singleRow(interactionKdeBlue, interactionKdeOrange, interactionTraceBlue, interactionTraceOrange),
  groupRow(subjectIntercepts, bellShape, drawJitter, 1.0, 1, extents[4]),
  groupRow(subjectRaceSlopes, spikeShape, spikyJitter, 1.1, 2, extents[5]),
  groupRow(subjectObjectSlopes, bellShape, drawJitter, 1.0, 3, extents[6]),
  groupRow(subjectInteractionSlopes, spikeShape, spikyJitter, 1.1, 4, extents[7]),
  groupRow(targetIntercepts, bellShape, drawJitter, 1.0, 5, extents[8]),
  groupRow(targetObjectSlopes, bellShape, drawJitter, 1.0, 6, extents[9]),
];

function padded([lo, hi]: [number, number]): [number, number] {
  const r = hi - lo;
  return [lo - 0.05 * r, hi + 0.05 * r];
}

const FONT = "'DejaVu Sans', sans-serif";

function Row({ r }: { r: number }) {
  const top = ROW_TOP + r * ROW_PITCH;
  const bottom = top + PANEL_H;
  const dom = padded(extents[r]);
  const data = rowData[r];
  const single = r < 4;

  const xK = d3.scaleLinear().domain(dom).range(LEFT_X);
  const maxDens = d3.max(data.kde.flatMap((c) => c.pts), (p) => p[1]) || 1;
  const yK = d3.scaleLinear().domain([-0.008 * maxDens, 1.05 * maxDens]).range([bottom, top]);
  const xT = d3.scaleLinear().domain([0, lastDraw]).range(RIGHT_X);
  const yT = d3.scaleLinear().domain(dom).range([bottom, top]);

  const kdeLine = d3.line<Pt>().x((p) => xK(p[0])).y((p) => yK(p[1])).curve(d3.curveMonotoneX);
  const trLine = d3.line<Pt>().x((p) => xT(p[0])).y((p) => yT(p[1]));

  const clipL = `clipL${r}`;
  const clipR = `clipR${r}`;

  return (
    <g>
      <defs>
        <clipPath id={clipL}>
          <rect x={LEFT_X[0]} y={top} width={LEFT_X[1] - LEFT_X[0]} height={PANEL_H} />
        </clipPath>
        <clipPath id={clipR}>
          <rect x={RIGHT_X[0]} y={top} width={RIGHT_X[1] - RIGHT_X[0]} height={PANEL_H} />
        </clipPath>
      </defs>
      {/* KDE panel */}
      <rect x={LEFT_X[0]} y={top} width={LEFT_X[1] - LEFT_X[0]} height={PANEL_H} fill={PANEL_BG} />
      {kdeTickLabels[r].map((t) => (
        <line key={t} x1={xK(num(t))} x2={xK(num(t))} y1={top} y2={bottom} stroke="#fff" strokeWidth={1} />
      ))}
      <g clipPath={`url(#${clipL})`} fill="none" strokeWidth={1.3}>
        {data.kde.map((c, i) => (
          <path key={i} d={kdeLine(c.pts) || ""} stroke={c.color} />
        ))}
      </g>
      {kdeTickLabels[r].map((t) => (
        <text key={t} x={xK(num(t))} y={bottom + 16.5} textAnchor="middle" fontSize={13} fill={TEXT} fontFamily={FONT}>
          {t}
        </text>
      ))}
      <text x={(LEFT_X[0] + LEFT_X[1]) / 2} y={top - 8} textAnchor="middle" fontSize={16} fill={TEXT} fontFamily={FONT}>
        {titles[r]}
      </text>

      {/* trace panel */}
      <rect x={RIGHT_X[0]} y={top} width={RIGHT_X[1] - RIGHT_X[0]} height={PANEL_H} fill={PANEL_BG} />
      {drawTickLabels.map((t) => (
        <line key={t} x1={xT(num(t))} x2={xT(num(t))} y1={top} y2={bottom} stroke="#fff" strokeWidth={1} />
      ))}
      {traceTickLabels[r].map((t) => (
        <line key={t} x1={RIGHT_X[0]} x2={RIGHT_X[1]} y1={yT(num(t))} y2={yT(num(t))} stroke="#fff" strokeWidth={1} />
      ))}
      <g clipPath={`url(#${clipR})`} fill="none" strokeWidth={single ? 1.1 : 1} strokeOpacity={0.35} strokeLinejoin="round">
        {data.traces.map((c, i) => (
          <path key={i} d={trLine(c.pts) || ""} stroke={c.color} />
        ))}
      </g>
      {drawTickLabels.map((t) => (
        <text key={t} x={xT(num(t))} y={bottom + 16.5} textAnchor="middle" fontSize={13} fill={TEXT} fontFamily={FONT}>
          {t}
        </text>
      ))}
      {traceTickLabels[r].map((t) => (
        <text key={t} x={RIGHT_X[0] - 7} y={yT(num(t))} dy="0.35em" textAnchor="end" fontSize={13} fill={TEXT} fontFamily={FONT}>
          {t}
        </text>
      ))}
      <text x={(RIGHT_X[0] + RIGHT_X[1]) / 2} y={top - 8} textAnchor="middle" fontSize={16} fill={TEXT} fontFamily={FONT}>
        {titles[r]}
      </text>
    </g>
  );
}

export default function App() {
  return (
    <div>
      <style>{`body{margin:0;background:#fff}`}</style>
      <svg width={FIG_W} height={FIG_H} style={{ display: "block" }}>
        <rect width={FIG_W} height={FIG_H} fill="#fff" />
        {titles.map((_, r) => (
          <Row key={r} r={r} />
        ))}
      </svg>
    </div>
  );
}
